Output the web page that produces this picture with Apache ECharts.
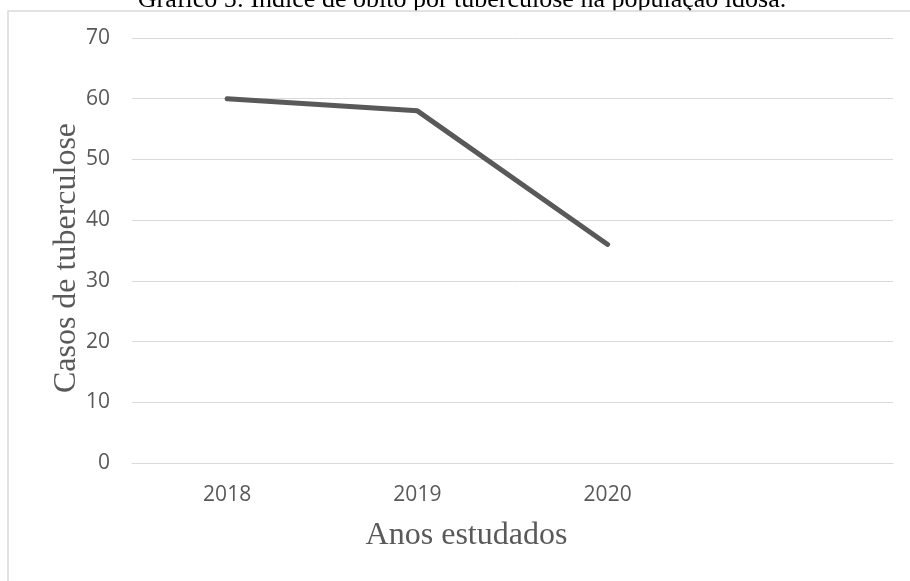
<!DOCTYPE html>
<html>
<head>
<meta charset="utf-8">
<script src="https://cdn.jsdelivr.net/npm/echarts@6/dist/echarts.min.js"></script>
<style>
  html, body { margin: 0; padding: 0; background: #fff; }
  #chart { width: 910px; height: 581px; }
</style>
</head>
<body>
<div id="chart"></div>
<script>
// Years on the category axis (last slot left empty as in the sheet layout)
const years = ['2018', '2019', '2020', ''];
// Deaths from tuberculosis among the elderly
const casos = [60, 58, 36, null];
// Y axis range
const yMin = 0, yMax = 70, yStep = 10;

const serif = '"Liberation Serif", "Times New Roman", serif';
const sans = '"Open Sans", "Noto Sans", sans-serif';

const chart = echarts.init(document.getElementById('chart'), null, { renderer: 'canvas' });

chart.setOption({
  animation: false,
  backgroundColor: '#ffffff',
  graphic: [
    {
      type: 'text',
      z: 0,
      x: 462,
      y: 0,
      style: {
        text: 'Gráfico 5: Índice de óbito por tuberculose na população idosa.',
        font: '26px ' + serif,
        fill: '#000000',
        align: 'center',
        verticalAlign: 'middle'
      }
    },
    {
      // chart area frame, drawn over the caption's lower edge
      type: 'rect',
      z: 1,
      shape: { x: 8, y: 11, width: 930, height: 600 },
      style: { fill: '#ffffff', stroke: '#d9d9d9', lineWidth: 1.5 },
      silent: true
    }
  ],
  grid: { left: 132, right: 17, top: 38, bottom: 118, z: 2 },
  xAxis: {
    type: 'category',
    data: years,
    boundaryGap: true,
    z: 3,
    axisLine: { show: true, lineStyle: { color: '#d9d9d9', width: 1 } },
    axisTick: { show: false },
    axisLabel: {
      color: '#595959',
      fontFamily: sans,
      fontSize: 21,
      margin: 22
    },
    name: 'Anos estudados',
    nameLocation: 'middle',
    nameGap: 57,
    nameMoveOverlap: false,
    nameTextStyle: {
      color: '#595959',
      fontFamily: serif,
      fontSize: 32,
      padding: [0, 92, 0, 0]
    }
  },
  yAxis: {
    type: 'value',
    min: yMin,
    max: yMax,
    interval: yStep,
    z: 3,
    axisLine: { show: false },
    axisTick: { show: false },
    splitLine: { lineStyle: { color: '#d9d9d9', width: 1 } },
    axisLabel: {
      color: '#595959',
      fontFamily: sans,
      fontSize: 21,
      margin: 22
    },
    name: 'Casos de tuberculose',
    nameLocation: 'middle',
    nameGap: 49,
    nameMoveOverlap: false,
    nameTextStyle: {
      color: '#595959',
      fontFamily: serif,
      fontSize: 32,
      padding: [0, 15, 0, 0]
    }
  },
  series: [
    {
      type: 'line',
      z: 4,
      data: casos,
      symbol: 'none',
      lineStyle: { color: '#595959', width: 5, cap: 'round', join: 'round' },
      connectNulls: false
    }
  ]
});
</script>
</body>
</html>
